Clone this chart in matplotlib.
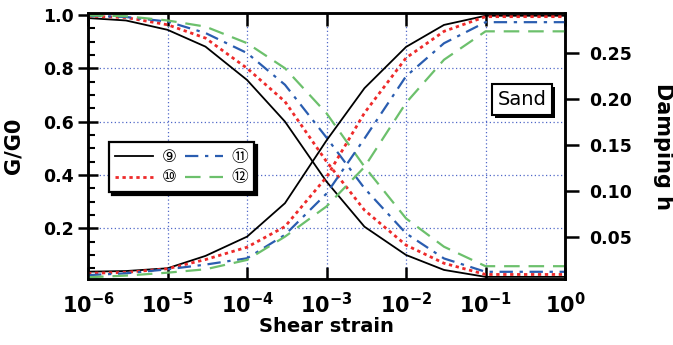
import numpy as np
import matplotlib
matplotlib.use("Agg")
import matplotlib.pyplot as plt
import matplotlib.patheffects as pe
from matplotlib.ticker import LogLocator, FixedLocator, MultipleLocator

# ==========================================================
# DADOS
# ==========================================================

strain = [1e-6, 3e-6, 1e-5, 3e-5, 1e-4, 3e-4, 1e-3, 3e-3, 1e-2, 3e-2, 1e-1, 1e0]

labels = ["⑨", "⑩", "⑪", "⑫"]

gg0_9 = [0.988, 0.979, 0.944, 0.881, 0.756, 0.600, 0.375, 0.206, 0.100, 0.044, 0.018, 0.018]
gg0_10 = [0.995, 0.990, 0.963, 0.913, 0.800, 0.675, 0.450, 0.268, 0.137, 0.069, 0.027, 0.027]
gg0_11 = [0.997, 0.992, 0.975, 0.932, 0.857, 0.738, 0.540, 0.350, 0.181, 0.087, 0.037, 0.037]
gg0_12 = [0.998, 0.995, 0.979, 0.956, 0.894, 0.800, 0.631, 0.431, 0.237, 0.131, 0.058, 0.058]

h_9 = [0.0118, 0.0125, 0.0155, 0.029, 0.050, 0.0865, 0.155, 0.212, 0.257, 0.281, 0.291, 0.291]
h_10 = [0.010, 0.011, 0.015, 0.025, 0.0385, 0.061, 0.115, 0.185, 0.245, 0.274, 0.290, 0.290]
h_11 = [0.008, 0.010, 0.0144, 0.0195, 0.0264, 0.052, 0.097, 0.157, 0.225, 0.261, 0.284, 0.284]
h_12 = [0.0057, 0.0075, 0.0107, 0.0144, 0.0246, 0.050, 0.083, 0.126, 0.196, 0.243, 0.274, 0.274]

# ==========================================================
# ESTILOS
# ==========================================================

plt.rcParams["font.family"] = ["DejaVu Sans", "Noto Sans CJK JP"]

estilos = [
    dict(color="black", linestyle="-", linewidth=1.3),
    dict(color="#ee2a2a", linestyle=(0, (1.2, 1.3)), linewidth=2.0),
    dict(color="#2a5db0", linestyle=(0, (6, 3, 1.5, 3)), linewidth=1.6),
    dict(color="#6cc06c", linestyle=(0, (7, 4)), linewidth=1.6),
]

COR_GRADE = "#5068c8"

# ==========================================================
# GRÁFICO
# ==========================================================

fig = plt.figure(figsize=(6.73, 3.45), dpi=100)
ax = fig.add_axes([0.1308, 0.1913, 0.7088, 0.771])
ax2 = ax.twinx()

series_g = [gg0_9, gg0_10, gg0_11, gg0_12]
series_h = [h_9, h_10, h_11, h_12]

handles = []
for g, h, est, lab in zip(series_g, series_h, estilos, labels):
    linha, = ax.plot(strain, g, label=lab, **est)
    ax2.plot(strain, h, **est)
    handles.append(linha)

ax.set_xscale("log")
ax.set_xlim(1e-6, 1e0)
ax.set_ylim(0.01, 1.007)
ax2.set_ylim(0.0038, 0.294)

# grade
for xv in [1e-5, 1e-4, 1e-3, 1e-2, 1e-1]:
    ax.axvline(xv, color=COR_GRADE, linestyle=(0, (1, 2)), linewidth=0.9, zorder=0)
for yv in [0.2, 0.4, 0.6, 0.8]:
    ax.axhline(yv, color=COR_GRADE, linestyle=(0, (1, 2)), linewidth=0.9, zorder=0)

# eixos e ticks
for a in (ax, ax2):
    for s in a.spines.values():
        s.set_linewidth(1.8)

ax.set_xticks([1e-6, 1e-5, 1e-4, 1e-3, 1e-2, 1e-1, 1e0])
ax.set_xticklabels([r"$\mathbf{10^{-6}}$", r"$\mathbf{10^{-5}}$", r"$\mathbf{10^{-4}}$",
                    r"$\mathbf{10^{-3}}$", r"$\mathbf{10^{-2}}$", r"$\mathbf{10^{-1}}$",
                    r"$\mathbf{10^{0}}$"], fontsize=15)
ax.xaxis.set_minor_locator(FixedLocator([]))
ax.tick_params(axis="x", which="major", direction="in", length=9, width=1.8,
               top=True, pad=9)

ax.yaxis.set_major_locator(FixedLocator([0.2, 0.4, 0.6, 0.8, 1.0]))
ax.yaxis.set_minor_locator(MultipleLocator(0.05))
ax.tick_params(axis="y", which="major", direction="inout", length=14, width=1.8,
               labelsize=12.5, pad=3)
ax.tick_params(axis="y", which="minor", direction="in", length=5, width=1.5)
ax.set_yticklabels(["0.2", "0.4", "0.6", "0.8", "1.0"])

ax2.yaxis.set_major_locator(FixedLocator([0.05, 0.10, 0.15, 0.20, 0.25]))
ax2.set_yticklabels(["0.05", "0.10", "0.15", "0.20", "0.25"])
ax2.tick_params(axis="y", which="major", direction="out", length=10, width=1.8,
                labelsize=12.5, pad=7)

for lbl in ax.get_yticklabels() + ax2.get_yticklabels():
    lbl.set_fontweight("bold")

ax.set_xlabel("Shear strain", fontsize=14, fontweight="bold", labelpad=0)
ax.set_ylabel("G/G0", fontsize=15, fontweight="bold", labelpad=14)
ax2.set_ylabel("Damping h", fontsize=15, fontweight="bold", rotation=270, labelpad=30)

# legenda
leg = ax2.legend(handles=handles, labels=labels, ncol=2, loc="upper left",
                 bbox_to_anchor=(0.044, 0.515), borderaxespad=0, fontsize=12,
                 handlelength=2.3, handletextpad=0.5, columnspacing=0.5,
                 labelspacing=0.15, borderpad=0.35, fancybox=False, framealpha=1,
                 edgecolor="black",
                 shadow={"color": "black", "alpha": 1, "ox": 2, "oy": -2})
leg.get_frame().set_linewidth(1.6)

# caixa "Sand"
txt = ax2.text(0.91, 0.675, "Sand", transform=ax2.transAxes, fontsize=14,
               ha="center", va="center",
               bbox=dict(boxstyle="square,pad=0.3", facecolor="white",
                         edgecolor="black", linewidth=1.5))
txt.get_bbox_patch().set_path_effects(
    [pe.SimplePatchShadow(offset=(2, -2), shadow_rgbFace="black", alpha=1), pe.Normal()])

fig.savefig("out.png", dpi=100)
